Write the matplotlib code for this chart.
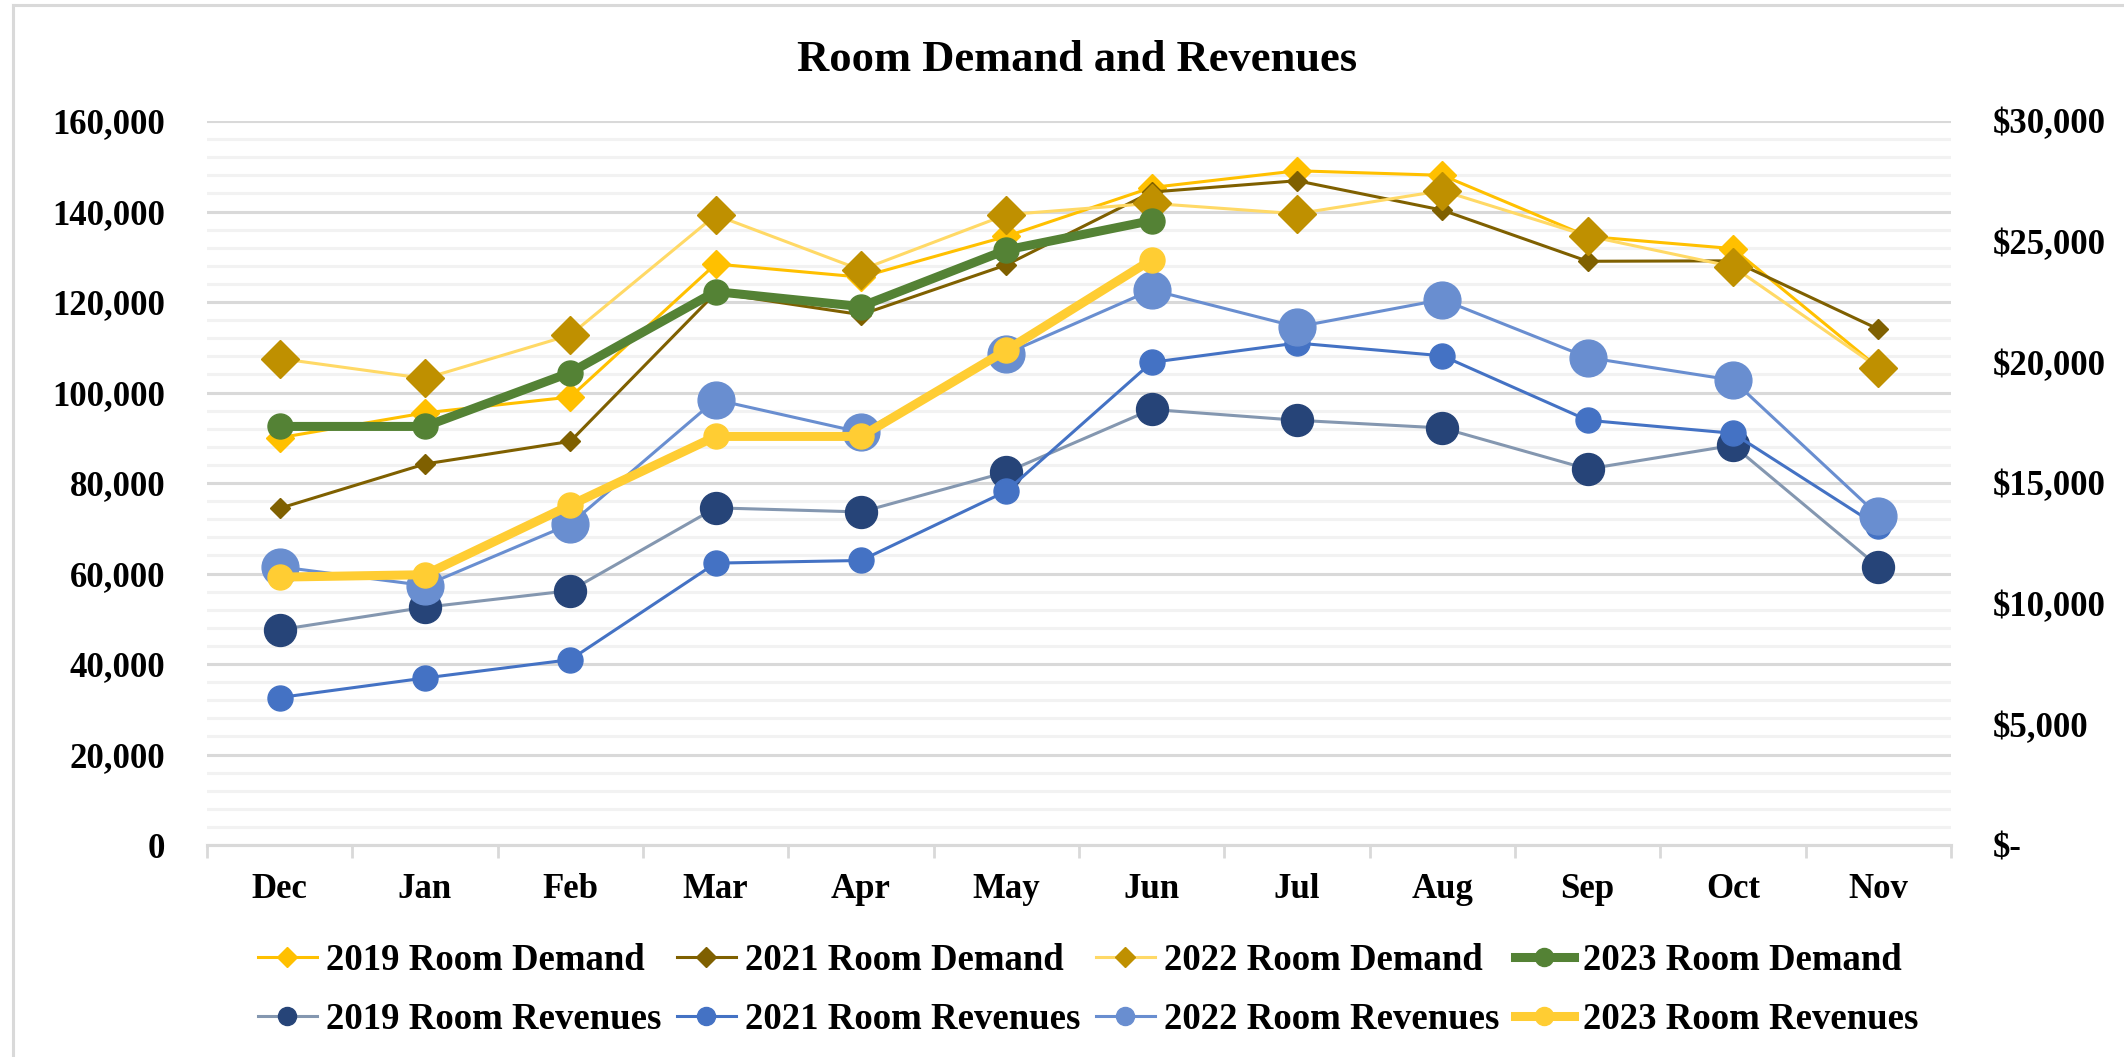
import matplotlib

matplotlib.use("Agg")
import matplotlib.pyplot as plt
from matplotlib.lines import Line2D
from matplotlib.ticker import FuncFormatter, MultipleLocator

plt.rcParams["font.family"] = ["Liberation Serif", "DejaVu Serif"]
plt.rcParams["font.weight"] = "bold"

months = ["Dec", "Jan", "Feb", "Mar", "Apr", "May", "Jun", "Jul", "Aug", "Sep", "Oct", "Nov"]

# room demand (left axis)
demand_2019 = [90000, 95500, 99000, 128400, 125500, 134500, 145300, 149000, 148000, 134500, 131800, 105500]
demand_2021 = [74400, 84200, 89200, 122000, 117200, 128200, 144300, 146800, 140300, 129000, 129100, 114000]
demand_2022 = [107500, 103100, 112700, 139200, 127100, 139300, 141800, 139500, 144600, 134600, 127800, 105500]
demand_2023 = [92500, 92500, 104400, 122300, 119000, 131500, 138000]

# room revenues (right axis, $)
revenue_2019 = [8920, 9850, 10540, 13970, 13800, 15450, 18050, 17600, 17280, 15580, 16560, 11530]
revenue_2021 = [6110, 6920, 7680, 11680, 11790, 14660, 20000, 20800, 20270, 17600, 17060, 13200]
revenue_2022 = [11530, 10750, 13300, 18450, 17100, 20360, 23000, 21470, 22600, 20200, 19260, 13650]
revenue_2023 = [11100, 11200, 14080, 16930, 16930, 20500, 24250]

DPI = 100
fig = plt.figure(figsize=(21.24, 10.57), dpi=DPI)
ax = fig.add_axes([207 / 2124, 1 - 845 / 1057, (1951 - 207) / 2124, (845 - 121) / 1057])
ax2 = ax.twinx()

x = list(range(len(months)))

# demand series
dem_styles = [
    (demand_2019, "2019 Room Demand", dict(color="#FFC000", lw=2.2, marker="D", ms=14, mfc="#FFC000", mec="#FFC000")),
    (demand_2021, "2021 Room Demand", dict(color="#7F6000", lw=2.2, marker="D", ms=10.5, mfc="#7F6000", mec="#7F6000")),
    (demand_2022, "2022 Room Demand", dict(color="#FFD966", lw=2.2, marker="D", ms=19, mfc="#BF9000", mec="#BF9000")),
    (demand_2023, "2023 Room Demand", dict(color="#548235", lw=6.5, marker="o", ms=18, mfc="#548235", mec="#548235")),
]
rev_styles = [
    (revenue_2019, "2019 Room Revenues", dict(color="#8497B0", lw=2.2, marker="o", ms=23, mfc="#264478", mec="#264478")),
    (revenue_2021, "2021 Room Revenues", dict(color="#4472C4", lw=2.2, marker="o", ms=18, mfc="#4472C4", mec="#4472C4")),
    (revenue_2022, "2022 Room Revenues", dict(color="#698ED0", lw=2.2, marker="o", ms=26.5, mfc="#698ED0", mec="#698ED0")),
    (revenue_2023, "2023 Room Revenues", dict(color="#FFCD33", lw=6.5, marker="o", ms=18, mfc="#FFCD33", mec="#FFCD33")),
]

dem_lines, rev_lines = [], []
for vals, lab, st in dem_styles:
    (ln,) = ax.plot(x[:len(vals)], vals, label=lab, zorder=3, **st)
    dem_lines.append(ln)
for vals, lab, st in rev_styles:
    (ln,) = ax2.plot(x[:len(vals)], vals, label=lab, zorder=3, **st)
    rev_lines.append(ln)

# axes / grid
ax.set_xlim(-0.5, 11.5)
ax.set_ylim(0, 160000)
ax2.set_ylim(0, 30000)
ax.yaxis.set_major_locator(MultipleLocator(20000))
ax.yaxis.set_minor_locator(MultipleLocator(4000))
ax2.yaxis.set_major_locator(MultipleLocator(5000))
ax.grid(True, which="minor", axis="y", color="#F2F2F2", lw=2.2, zorder=0)
ax.grid(True, which="major", axis="y", color="#D9D9D9", lw=2.2, zorder=0)
ax.set_axisbelow(True)

for a in (ax, ax2):
    for s in ("top", "left", "right"):
        a.spines[s].set_visible(False)
    a.spines["bottom"].set_color("#D9D9D9")
    a.spines["bottom"].set_linewidth(2.2)

ax.set_xticks(x)
ax.set_xticklabels(months)
ax.set_xticks([i - 0.5 for i in range(13)], minor=True)
ax.tick_params(axis="x", which="major", length=0, pad=20, labelsize=25)
ax.tick_params(axis="x", which="minor", length=9, width=2, color="#D9D9D9")
ax.tick_params(axis="y", which="both", length=0, pad=30, labelsize=25)
ax2.tick_params(axis="y", which="both", length=0, pad=30, labelsize=25)
ax.yaxis.set_major_formatter(FuncFormatter(lambda v, p: f"{v:,.0f}"))
ax2.yaxis.set_major_formatter(FuncFormatter(lambda v, p: "$-" if v == 0 else f"${v:,.0f}"))

fig.text(1077 / 2124, 1 - 60 / 1057, "Room Demand and Revenues", ha="center", va="center",
         fontsize=32, fontweight="bold")

# legend: row 1 demand, row 2 revenues (matplotlib fills columns first)
handles = []
for d, r in zip(dem_lines, rev_lines):
    handles += [d, r]
leg = fig.legend(handles=handles, labels=[h.get_label() for h in handles], ncol=4,
                 loc="center", bbox_to_anchor=(1088 / 2124, 1 - 990 / 1057), frameon=False,
                 fontsize=26.5, handlelength=1.6, handletextpad=0.25, columnspacing=0.42,
                 labelspacing=0.64)
for h in leg.legend_handles:
    h.set_markersize(10 if h.get_marker() == "D" else 13)

# chart frame (top + left edges visible in reference)
fig.add_artist(Line2D([13 / 2124, 13 / 2124], [0, 1 - 5 / 1057], color="#D9D9D9", lw=2.2,
                      transform=fig.transFigure))
fig.add_artist(Line2D([13 / 2124, 1], [1 - 5 / 1057, 1 - 5 / 1057], color="#D9D9D9", lw=2.2,
                      transform=fig.transFigure))

fig.savefig("out.png", dpi=DPI)
